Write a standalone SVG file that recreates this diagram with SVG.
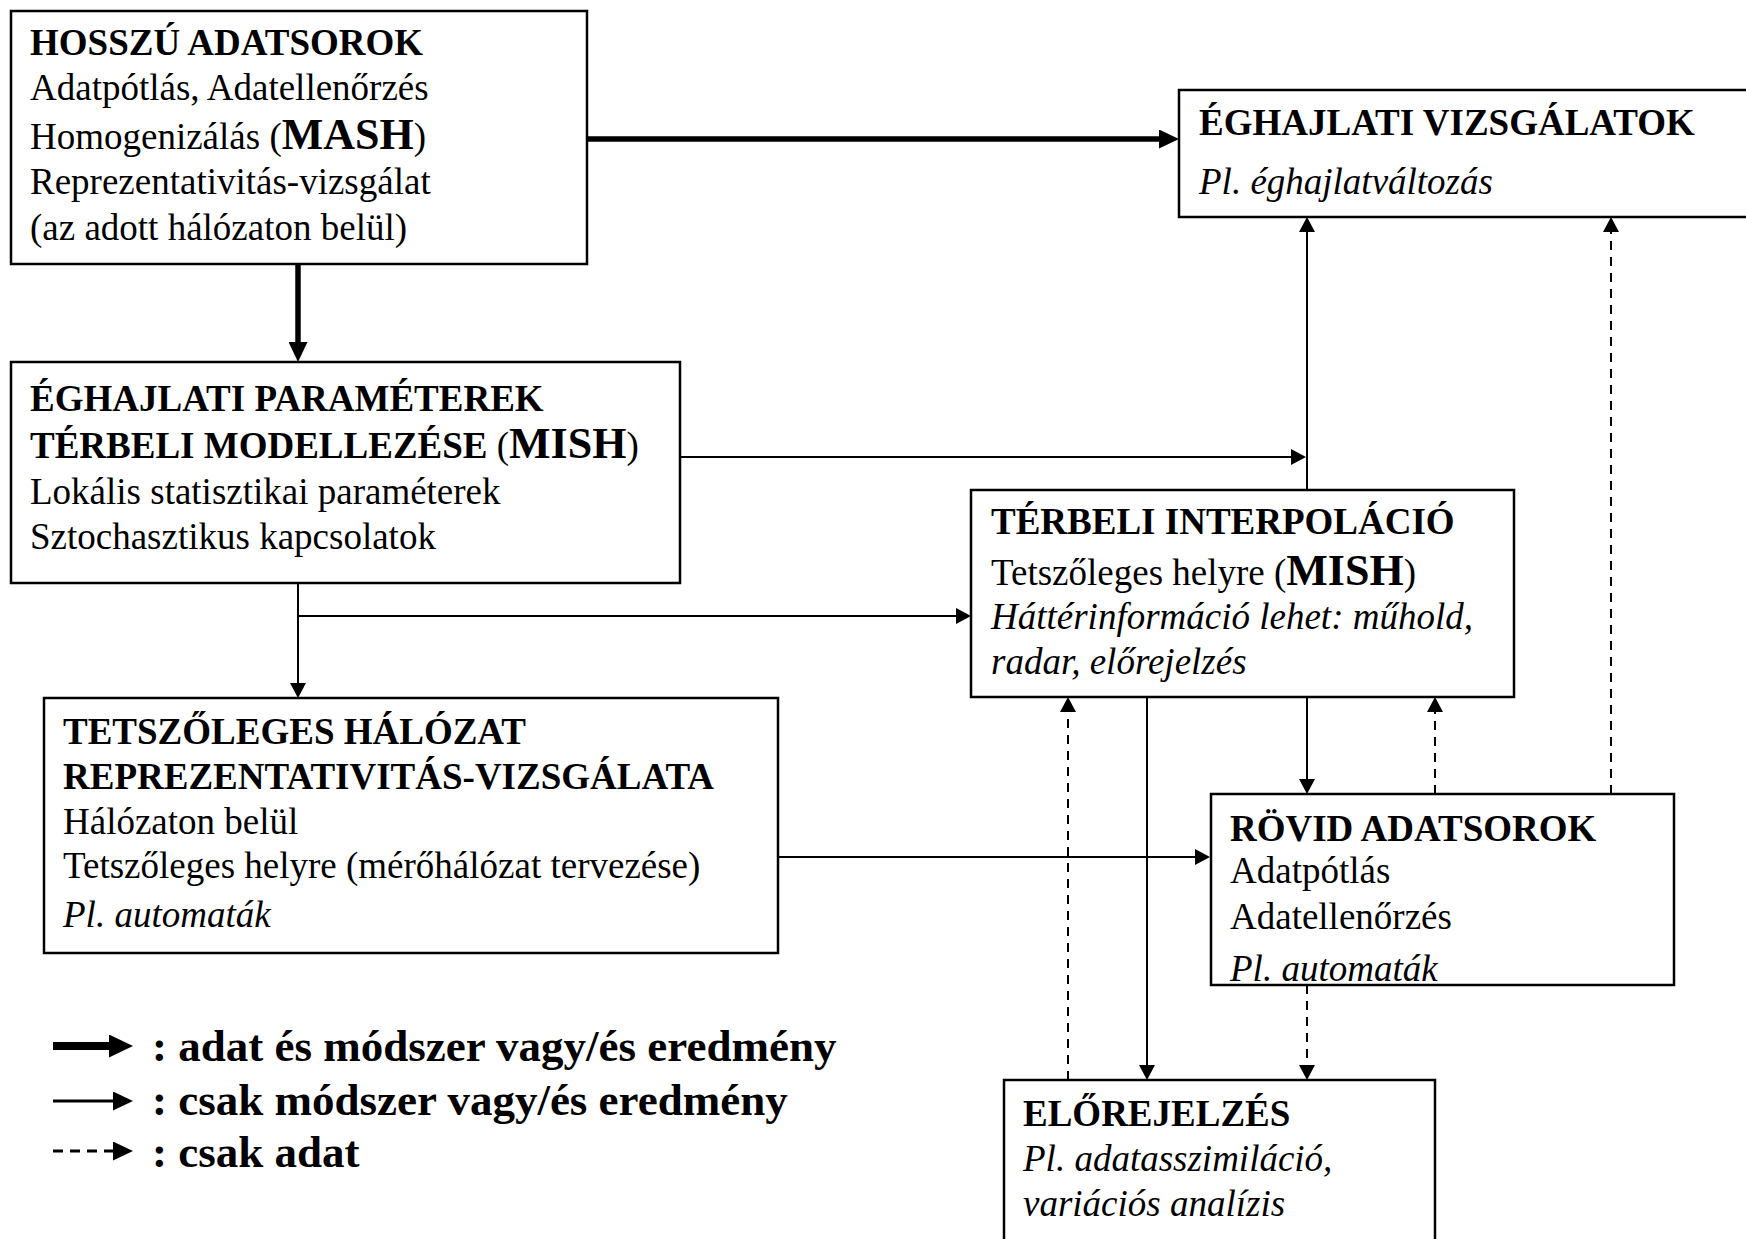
<svg xmlns="http://www.w3.org/2000/svg" width="1746" height="1239" viewBox="0 0 1746 1239">
<defs>
<style>
.box{fill:#fff;stroke:#000;stroke-width:2.5}
text{font-family:"Liberation Serif","Times New Roman",serif;font-size:37px;fill:#000}
.b{font-weight:bold}
.i{font-style:italic}
.big{font-weight:bold;font-size:44px}
.lg{font-weight:bold;font-size:45px}
.thick{stroke:#000;stroke-width:5.5;fill:none}
.thin{stroke:#000;stroke-width:2;fill:none}
.dash{stroke:#000;stroke-width:2;fill:none;stroke-dasharray:9 7}
</style>
<marker id="ah" markerUnits="userSpaceOnUse" viewBox="0 0 15 16" refX="13" refY="8" markerWidth="15" markerHeight="16" orient="auto">
<path d="M0,0 L15,8 L0,16 Z" fill="#000"/>
</marker>
<marker id="ahT" markerUnits="userSpaceOnUse" viewBox="0 0 20 19" refX="13" refY="9.5" markerWidth="20" markerHeight="19" orient="auto">
<path d="M0,0 L20,9.5 L0,19 Z" fill="#000"/>
</marker>
<marker id="ahL" markerUnits="userSpaceOnUse" viewBox="0 0 24 23" refX="16" refY="11.5" markerWidth="24" markerHeight="23" orient="auto">
<path d="M0,0 L24,11.5 L0,23 Z" fill="#000"/>
</marker>
<marker id="ahM" markerUnits="userSpaceOnUse" viewBox="0 0 20 19" refX="16" refY="9.5" markerWidth="20" markerHeight="19" orient="auto">
<path d="M0,0 L20,9.5 L0,19 Z" fill="#000"/>
</marker>
</defs>
<rect width="1746" height="1239" fill="#fff"/>

<g id="node-hosszu">
<rect class="box" x="11" y="11" width="576" height="253"/>
<text class="b" x="30" y="55">HOSSZÚ ADATSOROK</text>
<text x="30" y="100">Adatpótlás, Adatellenőrzés</text>
<text x="30" y="149">Homogenizálás (<tspan class="big">MASH</tspan>)</text>
<text x="30" y="194">Reprezentativitás-vizsgálat</text>
<text x="30" y="240">(az adott hálózaton belül)</text>
</g>

<g id="node-eghajlati-vizsgalatok">
<rect class="box" x="1179" y="90" width="580" height="127"/>
<text class="b" x="1199" y="135">ÉGHAJLATI VIZSGÁLATOK</text>
<text class="i" x="1199" y="194">Pl. éghajlatváltozás</text>
</g>

<g id="node-parameterek">
<rect class="box" x="11" y="362" width="669" height="221"/>
<text class="b" x="30" y="411">ÉGHAJLATI PARAMÉTEREK</text>
<text x="30" y="458"><tspan class="b">TÉRBELI MODELLEZÉSE </tspan>(<tspan class="big">MISH</tspan>)</text>
<text x="30" y="504">Lokális statisztikai paraméterek</text>
<text x="30" y="549">Sztochasztikus kapcsolatok</text>
</g>

<g id="node-interpolacio">
<rect class="box" x="971" y="490" width="543" height="207"/>
<text class="b" x="991" y="534">TÉRBELI INTERPOLÁCIÓ</text>
<text x="991" y="585">Tetszőleges helyre (<tspan class="big">MISH</tspan>)</text>
<text class="i" x="991" y="629">Háttérinformáció lehet: műhold,</text>
<text class="i" x="991" y="674">radar, előrejelzés</text>
</g>

<g id="node-halozat">
<rect class="box" x="44" y="698" width="734" height="255"/>
<text class="b" x="63" y="744">TETSZŐLEGES HÁLÓZAT</text>
<text class="b" x="63" y="789">REPREZENTATIVITÁS-VIZSGÁLATA</text>
<text x="63" y="834">Hálózaton belül</text>
<text x="63" y="878">Tetszőleges helyre (mérőhálózat tervezése)</text>
<text class="i" x="63" y="927">Pl. automaták</text>
</g>

<g id="node-rovid">
<rect class="box" x="1211" y="794" width="463" height="191"/>
<text class="b" x="1230" y="841">RÖVID ADATSOROK</text>
<text x="1230" y="883">Adatpótlás</text>
<text x="1230" y="929">Adatellenőrzés</text>
<text class="i" x="1230" y="981">Pl. automaták</text>
</g>

<g id="node-elorejelzes">
<rect class="box" x="1004" y="1080" width="431" height="200"/>
<text class="b" x="1023" y="1126">ELŐREJELZÉS</text>
<text class="i" x="1023" y="1171">Pl. adatasszimiláció,</text>
<text class="i" x="1023" y="1216">variációs analízis</text>
</g>

<g id="connectors">
<path class="thick" d="M587,139 H1172" marker-end="url(#ahT)"/>
<path class="thick" d="M298,264 V355" marker-end="url(#ahT)"/>
<path class="thin" d="M680,457 H1304" marker-end="url(#ah)"/>
<path class="thin" d="M1307,490 V219" marker-end="url(#ah)"/>
<path class="thin" d="M298,583 V696" marker-end="url(#ah)"/>
<path class="thin" d="M298,616 H969" marker-end="url(#ah)"/>
<path class="thin" d="M778,857 H1208" marker-end="url(#ah)"/>
<path class="thin" d="M1307,697 V792" marker-end="url(#ah)"/>
<path class="dash" d="M1435,794 V699" marker-end="url(#ah)"/>
<path class="dash" d="M1611,794 V219" marker-end="url(#ah)"/>
<path class="thin" d="M1147,697 V1078" marker-end="url(#ah)"/>
<path class="dash" d="M1068,1080 V699" marker-end="url(#ah)"/>
<path class="dash" d="M1307,985 V1078" marker-end="url(#ah)"/>
</g>

<g id="legend">
<path class="thick" d="M53,1046 H125" style="stroke-width:8" marker-end="url(#ahL)"/>
<path class="thin" d="M53,1101 H129" style="stroke-width:3" marker-end="url(#ahM)"/>
<path class="dash" d="M53,1151 H129" style="stroke-width:3;stroke-dasharray:10 7" marker-end="url(#ahM)"/>
<text class="lg" x="152" y="1061">: adat és módszer vagy/és eredmény</text>
<text class="lg" x="152" y="1115">: csak módszer vagy/és eredmény</text>
<text class="lg" x="152" y="1167">: csak adat</text>
</g>
</svg>
